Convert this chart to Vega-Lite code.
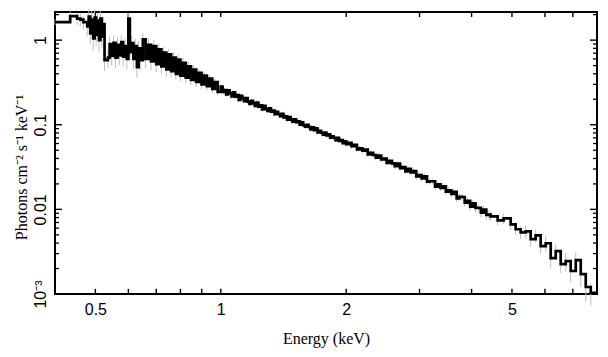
{
  "$schema": "https://vega.github.io/schema/vega-lite/v6.json",
  "width": 542,
  "height": 282,
  "autosize": {"type": "none"},
  "padding": {"left": 55, "top": 12, "right": 11, "bottom": 63},
  "background": "white",
  "config": {
    "view": {"stroke": "black", "strokeWidth": 2},
    "axis": {
      "domain": false,
      "grid": false,
      "ticks": false,
      "labelFont": "Liberation Sans",
      "labelFontSize": 16,
      "labelColor": "black",
      "labelOverlap": false,
      "labelBound": false,
      "labelFlush": false,
      "titleFont": "Liberation Serif",
      "titleFontSize": 16,
      "titleFontWeight": "normal",
      "titleColor": "black"
    }
  },
  "data": {
    "values": [
      {"e": 0.400, "f": 1.63, "err": 0.12},
      {"e": 0.435, "f": 1.92, "err": 0.25},
      {"e": 0.452, "f": 1.80, "err": 0.3},
      {"e": 0.460, "f": 1.75, "err": 0.3},
      {"e": 0.468, "f": 1.63, "err": 0.3},
      {"e": 0.478, "f": 1.45, "err": 0.35},
      {"e": 0.482, "f": 1.90, "err": 0.45},
      {"e": 0.486, "f": 1.20, "err": 0.3},
      {"e": 0.490, "f": 1.75, "err": 0.45},
      {"e": 0.494, "f": 1.05, "err": 0.3},
      {"e": 0.498, "f": 1.85, "err": 0.45},
      {"e": 0.502, "f": 1.15, "err": 0.3},
      {"e": 0.506, "f": 1.70, "err": 0.4},
      {"e": 0.510, "f": 1.00, "err": 0.28},
      {"e": 0.514, "f": 1.80, "err": 0.4},
      {"e": 0.518, "f": 1.10, "err": 0.3},
      {"e": 0.522, "f": 1.55, "err": 0.35},
      {"e": 0.526, "f": 0.58, "err": 0.15},
      {"e": 0.536, "f": 0.62, "err": 0.15},
      {"e": 0.541, "f": 0.90, "err": 0.2},
      {"e": 0.547, "f": 0.65, "err": 0.15},
      {"e": 0.553, "f": 0.93, "err": 0.2},
      {"e": 0.559, "f": 0.62, "err": 0.15},
      {"e": 0.565, "f": 0.88, "err": 0.2},
      {"e": 0.571, "f": 0.66, "err": 0.15},
      {"e": 0.577, "f": 0.95, "err": 0.2},
      {"e": 0.583, "f": 0.64, "err": 0.15},
      {"e": 0.589, "f": 0.85, "err": 0.2},
      {"e": 0.595, "f": 0.60, "err": 0.15},
      {"e": 0.600, "f": 1.80, "err": 0.3},
      {"e": 0.605, "f": 0.72, "err": 0.15},
      {"e": 0.611, "f": 0.92, "err": 0.2},
      {"e": 0.617, "f": 0.60, "err": 0.15},
      {"e": 0.623, "f": 0.85, "err": 0.18},
      {"e": 0.629, "f": 0.48, "err": 0.12},
      {"e": 0.635, "f": 0.80, "err": 0.18},
      {"e": 0.641, "f": 0.58, "err": 0.14},
      {"e": 0.650, "f": 1.02, "err": 0.2},
      {"e": 0.660, "f": 0.60, "err": 0.13},
      {"e": 0.670, "f": 0.88, "err": 0.17},
      {"e": 0.680, "f": 0.56, "err": 0.12},
      {"e": 0.690, "f": 0.85, "err": 0.16},
      {"e": 0.700, "f": 0.52, "err": 0.1},
      {"e": 0.710, "f": 0.78, "err": 0.14},
      {"e": 0.720, "f": 0.49, "err": 0.09},
      {"e": 0.730, "f": 0.71, "err": 0.12},
      {"e": 0.740, "f": 0.45, "err": 0.08},
      {"e": 0.750, "f": 0.68, "err": 0.11},
      {"e": 0.760, "f": 0.43, "err": 0.07},
      {"e": 0.770, "f": 0.62, "err": 0.1},
      {"e": 0.780, "f": 0.40, "err": 0.06},
      {"e": 0.790, "f": 0.59, "err": 0.09},
      {"e": 0.800, "f": 0.38, "err": 0.055},
      {"e": 0.812, "f": 0.54, "err": 0.08},
      {"e": 0.824, "f": 0.36, "err": 0.05},
      {"e": 0.836, "f": 0.49, "err": 0.065},
      {"e": 0.848, "f": 0.34, "err": 0.045},
      {"e": 0.860, "f": 0.45, "err": 0.055},
      {"e": 0.873, "f": 0.32, "err": 0.04},
      {"e": 0.886, "f": 0.41, "err": 0.045},
      {"e": 0.899, "f": 0.30, "err": 0.035},
      {"e": 0.912, "f": 0.38, "err": 0.04},
      {"e": 0.926, "f": 0.285, "err": 0.03},
      {"e": 0.940, "f": 0.35, "err": 0.035},
      {"e": 0.954, "f": 0.265, "err": 0.027},
      {"e": 0.968, "f": 0.32, "err": 0.03},
      {"e": 0.983, "f": 0.245, "err": 0.024},
      {"e": 1.000, "f": 0.283, "err": 0.017},
      {"e": 1.010, "f": 0.244, "err": 0.015},
      {"e": 1.020, "f": 0.256, "err": 0.015},
      {"e": 1.030, "f": 0.229, "err": 0.014},
      {"e": 1.040, "f": 0.255, "err": 0.015},
      {"e": 1.050, "f": 0.236, "err": 0.014},
      {"e": 1.061, "f": 0.217, "err": 0.013},
      {"e": 1.071, "f": 0.242, "err": 0.014},
      {"e": 1.082, "f": 0.215, "err": 0.013},
      {"e": 1.093, "f": 0.224, "err": 0.013},
      {"e": 1.104, "f": 0.196, "err": 0.012},
      {"e": 1.115, "f": 0.219, "err": 0.013},
      {"e": 1.126, "f": 0.206, "err": 0.012},
      {"e": 1.137, "f": 0.190, "err": 0.011},
      {"e": 1.149, "f": 0.207, "err": 0.012},
      {"e": 1.160, "f": 0.188, "err": 0.011},
      {"e": 1.172, "f": 0.176, "err": 0.011},
      {"e": 1.183, "f": 0.191, "err": 0.011},
      {"e": 1.195, "f": 0.180, "err": 0.011},
      {"e": 1.207, "f": 0.167, "err": 0.010},
      {"e": 1.219, "f": 0.183, "err": 0.011},
      {"e": 1.231, "f": 0.164, "err": 0.010},
      {"e": 1.243, "f": 0.169, "err": 0.010},
      {"e": 1.256, "f": 0.152, "err": 0.009},
      {"e": 1.268, "f": 0.167, "err": 0.010},
      {"e": 1.281, "f": 0.154, "err": 0.009},
      {"e": 1.294, "f": 0.146, "err": 0.009},
      {"e": 1.306, "f": 0.156, "err": 0.009},
      {"e": 1.319, "f": 0.143, "err": 0.0086},
      {"e": 1.333, "f": 0.147, "err": 0.0088},
      {"e": 1.346, "f": 0.133, "err": 0.008},
      {"e": 1.360, "f": 0.142, "err": 0.0085},
      {"e": 1.373, "f": 0.134, "err": 0.008},
      {"e": 1.387, "f": 0.126, "err": 0.0076},
      {"e": 1.400, "f": 0.135, "err": 0.0081},
      {"e": 1.414, "f": 0.122, "err": 0.0073},
      {"e": 1.428, "f": 0.126, "err": 0.0076},
      {"e": 1.443, "f": 0.115, "err": 0.0069},
      {"e": 1.457, "f": 0.123, "err": 0.0074},
      {"e": 1.472, "f": 0.115, "err": 0.0069},
      {"e": 1.486, "f": 0.109, "err": 0.0065},
      {"e": 1.501, "f": 0.116, "err": 0.007},
      {"e": 1.516, "f": 0.107, "err": 0.0064},
      {"e": 1.531, "f": 0.110, "err": 0.0066},
      {"e": 1.546, "f": 0.100, "err": 0.006},
      {"e": 1.562, "f": 0.107, "err": 0.0064},
      {"e": 1.577, "f": 0.0991, "err": 0.006},
      {"e": 1.593, "f": 0.0952, "err": 0.0057},
      {"e": 1.608, "f": 0.0998, "err": 0.006},
      {"e": 1.625, "f": 0.0941, "err": 0.0056},
      {"e": 1.641, "f": 0.0884, "err": 0.0053},
      {"e": 1.657, "f": 0.0929, "err": 0.0056},
      {"e": 1.673, "f": 0.0865, "err": 0.0052},
      {"e": 1.690, "f": 0.0908, "err": 0.0054},
      {"e": 1.707, "f": 0.0813, "err": 0.0049},
      {"e": 1.724, "f": 0.0847, "err": 0.0051},
      {"e": 1.741, "f": 0.0804, "err": 0.0048},
      {"e": 1.758, "f": 0.0764, "err": 0.0046},
      {"e": 1.776, "f": 0.0810, "err": 0.0049},
      {"e": 1.793, "f": 0.0748, "err": 0.0045},
      {"e": 1.811, "f": 0.0769, "err": 0.0046},
      {"e": 1.830, "f": 0.0703, "err": 0.0042},
      {"e": 1.848, "f": 0.0731, "err": 0.0044},
      {"e": 1.866, "f": 0.0702, "err": 0.0042},
      {"e": 1.885, "f": 0.0660, "err": 0.004},
      {"e": 1.904, "f": 0.0700, "err": 0.0042},
      {"e": 1.922, "f": 0.0646, "err": 0.0039},
      {"e": 1.942, "f": 0.0658, "err": 0.0039},
      {"e": 1.961, "f": 0.0607, "err": 0.0036},
      {"e": 1.980, "f": 0.0638, "err": 0.0038},
      {"e": 2.000, "f": 0.0589, "err": 0.0041},
      {"e": 2.030, "f": 0.0612, "err": 0.0043},
      {"e": 2.060, "f": 0.0558, "err": 0.0039},
      {"e": 2.091, "f": 0.0579, "err": 0.0041},
      {"e": 2.123, "f": 0.0512, "err": 0.0036},
      {"e": 2.155, "f": 0.0526, "err": 0.0037},
      {"e": 2.187, "f": 0.0495, "err": 0.0035},
      {"e": 2.220, "f": 0.0508, "err": 0.0036},
      {"e": 2.253, "f": 0.0445, "err": 0.0031},
      {"e": 2.287, "f": 0.0467, "err": 0.0033},
      {"e": 2.321, "f": 0.0439, "err": 0.0031},
      {"e": 2.356, "f": 0.0408, "err": 0.0029},
      {"e": 2.391, "f": 0.0432, "err": 0.003},
      {"e": 2.427, "f": 0.0390, "err": 0.0027},
      {"e": 2.464, "f": 0.0397, "err": 0.0028},
      {"e": 2.501, "f": 0.0354, "err": 0.0025},
      {"e": 2.538, "f": 0.0375, "err": 0.0026},
      {"e": 2.576, "f": 0.0350, "err": 0.0025},
      {"e": 2.615, "f": 0.0324, "err": 0.0023},
      {"e": 2.654, "f": 0.0348, "err": 0.0024},
      {"e": 2.694, "f": 0.0307, "err": 0.0022},
      {"e": 2.734, "f": 0.0316, "err": 0.0022},
      {"e": 2.775, "f": 0.0282, "err": 0.002},
      {"e": 2.817, "f": 0.0302, "err": 0.0021},
      {"e": 2.859, "f": 0.0273, "err": 0.0019},
      {"e": 2.902, "f": 0.0284, "err": 0.0021},
      {"e": 2.946, "f": 0.0245, "err": 0.0019},
      {"e": 2.990, "f": 0.0254, "err": 0.002},
      {"e": 3.035, "f": 0.0232, "err": 0.0018},
      {"e": 3.080, "f": 0.0246, "err": 0.0019},
      {"e": 3.126, "f": 0.0213, "err": 0.0017},
      {"e": 3.173, "f": 0.0215, "err": 0.0017},
      {"e": 3.221, "f": 0.0215, "err": 0.0017},
      {"e": 3.269, "f": 0.0186, "err": 0.0015},
      {"e": 3.318, "f": 0.0198, "err": 0.0016},
      {"e": 3.368, "f": 0.0179, "err": 0.0015},
      {"e": 3.419, "f": 0.0187, "err": 0.0016},
      {"e": 3.470, "f": 0.0162, "err": 0.0014},
      {"e": 3.522, "f": 0.0168, "err": 0.0015},
      {"e": 3.575, "f": 0.0152, "err": 0.0014},
      {"e": 3.628, "f": 0.0161, "err": 0.0015},
      {"e": 3.683, "f": 0.0135, "err": 0.0013},
      {"e": 3.738, "f": 0.0141, "err": 0.0014},
      {"e": 3.794, "f": 0.0140, "err": 0.0014},
      {"e": 3.851, "f": 0.0120, "err": 0.0012},
      {"e": 3.909, "f": 0.0126, "err": 0.0013},
      {"e": 3.968, "f": 0.0108, "err": 0.0012},
      {"e": 4.027, "f": 0.0118, "err": 0.0013},
      {"e": 4.088, "f": 0.0104, "err": 0.0012},
      {"e": 4.149, "f": 0.0104, "err": 0.0012},
      {"e": 4.211, "f": 0.00912, "err": 0.0011},
      {"e": 4.275, "f": 0.00993, "err": 0.0012},
      {"e": 4.339, "f": 0.00862, "err": 0.0011},
      {"e": 4.404, "f": 0.00868, "err": 0.0011},
      {"e": 4.443, "f": 0.00827, "err": 0.0011},
      {"e": 4.619, "f": 0.00742, "err": 0.001},
      {"e": 4.775, "f": 0.00783, "err": 0.0011},
      {"e": 4.964, "f": 0.00666, "err": 0.001},
      {"e": 5.103, "f": 0.00582, "err": 0.0009},
      {"e": 5.246, "f": 0.00536, "err": 0.0009},
      {"e": 5.393, "f": 0.00551, "err": 0.001},
      {"e": 5.545, "f": 0.00444, "err": 0.0008},
      {"e": 5.700, "f": 0.00494, "err": 0.0009},
      {"e": 5.860, "f": 0.00367, "err": 0.0007},
      {"e": 6.025, "f": 0.00398, "err": 0.0008},
      {"e": 6.194, "f": 0.00265, "err": 0.0006},
      {"e": 6.368, "f": 0.00321, "err": 0.0007},
      {"e": 6.546, "f": 0.00225, "err": 0.0005},
      {"e": 6.730, "f": 0.00244, "err": 0.0006},
      {"e": 6.918, "f": 0.00187, "err": 0.0005},
      {"e": 7.114, "f": 0.00251, "err": 0.0006},
      {"e": 7.313, "f": 0.00172, "err": 0.0005},
      {"e": 7.518, "f": 0.00121, "err": 0.0004},
      {"e": 7.729, "f": 0.00103, "err": 0.0003},
      {"e": 8.000, "f": 0.00103, "err": 0}
    ]
  },
  "layer": [
    {
      "data": {"values": [{"v": 0.5}, {"v": 0.6}, {"v": 0.7}, {"v": 0.8}, {"v": 0.9}, {"v": 1}, {"v": 2}, {"v": 3}, {"v": 4}, {"v": 5}, {"v": 6}, {"v": 7}]},
      "mark": {"type": "rule", "color": "black", "strokeWidth": 1.4},
      "encoding": {
        "x": {"field": "v", "type": "quantitative", "scale": {"type": "log", "domain": [0.4, 8]}, "axis": null},
        "y": {"datum": 0.001, "type": "quantitative", "scale": {"type": "log", "domain": [0.001, 2.15]}, "axis": null},
        "y2": {"datum": 0.00115}
      }
    },
    {
      "data": {"values": [{"v": 0.5}, {"v": 0.6}, {"v": 0.7}, {"v": 0.8}, {"v": 0.9}, {"v": 1}, {"v": 2}, {"v": 3}, {"v": 4}, {"v": 5}, {"v": 6}, {"v": 7}]},
      "mark": {"type": "rule", "color": "black", "strokeWidth": 1.4},
      "encoding": {
        "x": {"field": "v", "type": "quantitative", "scale": {"type": "log", "domain": [0.4, 8]}, "axis": null},
        "y": {"datum": 2.15, "type": "quantitative", "scale": {"type": "log", "domain": [0.001, 2.15]}, "axis": null},
        "y2": {"datum": 1.875}
      }
    },
    {
      "data": {"values": [{"v": 0.001}, {"v": 0.01}, {"v": 0.1}, {"v": 1}]},
      "mark": {"type": "rule", "color": "black", "strokeWidth": 1.4},
      "encoding": {
        "y": {"field": "v", "type": "quantitative", "scale": {"type": "log", "domain": [0.001, 2.15]}, "axis": null},
        "x": {"datum": 0.4, "type": "quantitative", "scale": {"type": "log", "domain": [0.4, 8]}, "axis": null},
        "x2": {"datum": 0.4158}
      }
    },
    {
      "data": {"values": [{"v": 0.001}, {"v": 0.01}, {"v": 0.1}, {"v": 1}]},
      "mark": {"type": "rule", "color": "black", "strokeWidth": 1.4},
      "encoding": {
        "y": {"field": "v", "type": "quantitative", "scale": {"type": "log", "domain": [0.001, 2.15]}, "axis": null},
        "x": {"datum": 8, "type": "quantitative", "scale": {"type": "log", "domain": [0.4, 8]}, "axis": null},
        "x2": {"datum": 7.696}
      }
    },
    {
      "data": {"values": [{"v": 0.002}, {"v": 0.003}, {"v": 0.004}, {"v": 0.005}, {"v": 0.006}, {"v": 0.007}, {"v": 0.008}, {"v": 0.009}, {"v": 0.02}, {"v": 0.03}, {"v": 0.04}, {"v": 0.05}, {"v": 0.06}, {"v": 0.07}, {"v": 0.08}, {"v": 0.09}, {"v": 0.2}, {"v": 0.3}, {"v": 0.4}, {"v": 0.5}, {"v": 0.6}, {"v": 0.7}, {"v": 0.8}, {"v": 0.9}, {"v": 2}]},
      "mark": {"type": "rule", "color": "black", "strokeWidth": 1.3},
      "encoding": {
        "y": {"field": "v", "type": "quantitative", "scale": {"type": "log", "domain": [0.001, 2.15]}, "axis": null},
        "x": {"datum": 0.4, "type": "quantitative", "scale": {"type": "log", "domain": [0.4, 8]}, "axis": null},
        "x2": {"datum": 0.4089}
      }
    },
    {
      "data": {"values": [{"v": 0.002}, {"v": 0.003}, {"v": 0.004}, {"v": 0.005}, {"v": 0.006}, {"v": 0.007}, {"v": 0.008}, {"v": 0.009}, {"v": 0.02}, {"v": 0.03}, {"v": 0.04}, {"v": 0.05}, {"v": 0.06}, {"v": 0.07}, {"v": 0.08}, {"v": 0.09}, {"v": 0.2}, {"v": 0.3}, {"v": 0.4}, {"v": 0.5}, {"v": 0.6}, {"v": 0.7}, {"v": 0.8}, {"v": 0.9}, {"v": 2}]},
      "mark": {"type": "rule", "color": "black", "strokeWidth": 1.3},
      "encoding": {
        "y": {"field": "v", "type": "quantitative", "scale": {"type": "log", "domain": [0.001, 2.15]}, "axis": null},
        "x": {"datum": 8, "type": "quantitative", "scale": {"type": "log", "domain": [0.4, 8]}, "axis": null},
        "x2": {"datum": 7.825}
      }
    },
    {
      "mark": {"type": "errorbar", "color": "#bdbdbd", "thickness": 1, "ticks": false},
      "encoding": {
        "x": {"field": "e", "type": "quantitative", "scale": {"type": "log", "domain": [0.4, 8]}, "axis": null},
        "y": {"field": "f", "type": "quantitative", "scale": {"type": "log", "domain": [0.001, 2.15]}, "axis": null},
        "yError": {"field": "err"}
      }
    },
    {
      "mark": {"type": "line", "interpolate": "step-after", "color": "black", "strokeWidth": 2.7, "clip": true},
      "encoding": {
        "x": {
          "field": "e", "type": "quantitative",
          "scale": {"type": "log", "domain": [0.4, 8]},
          "axis": {
            "orient": "bottom",
            "values": [0.5, 1, 2, 5],
            "labelExpr": "datum.value == 0.5 ? '0.5' : datum.value == 1 ? '1' : datum.value == 2 ? '2' : '5'",
            "labelPadding": 7,
            "title": "Energy (keV)",
            "titleX": 271,
            "titleY": 49,
            "titleAlign": "center",
            "titleBaseline": "alphabetic"
          }
        },
        "y": {
          "field": "f", "type": "quantitative",
          "scale": {"type": "log", "domain": [0.001, 2.15]},
          "axis": {
            "orient": "left",
            "values": [0.001, 0.01, 0.1, 1],
            "labelExpr": "datum.value == 1 ? '1' : datum.value == 0.1 ? '0.1' : datum.value == 0.01 ? '0.01' : '10⁻³'",
            "labelAngle": -90,
            "labelAlign": "center",
            "labelBaseline": "alphabetic",
            "labelPadding": 10,
            "title": "Photons cm⁻² s⁻¹ keV⁻¹",
            "titleX": -29,
            "titleY": 155,
            "titleAngle": -90,
            "titleAlign": "center",
            "titleBaseline": "alphabetic"
          }
        }
      }
    }
  ],
  "resolve": {"axis": {"x": "independent", "y": "independent"}}
}
